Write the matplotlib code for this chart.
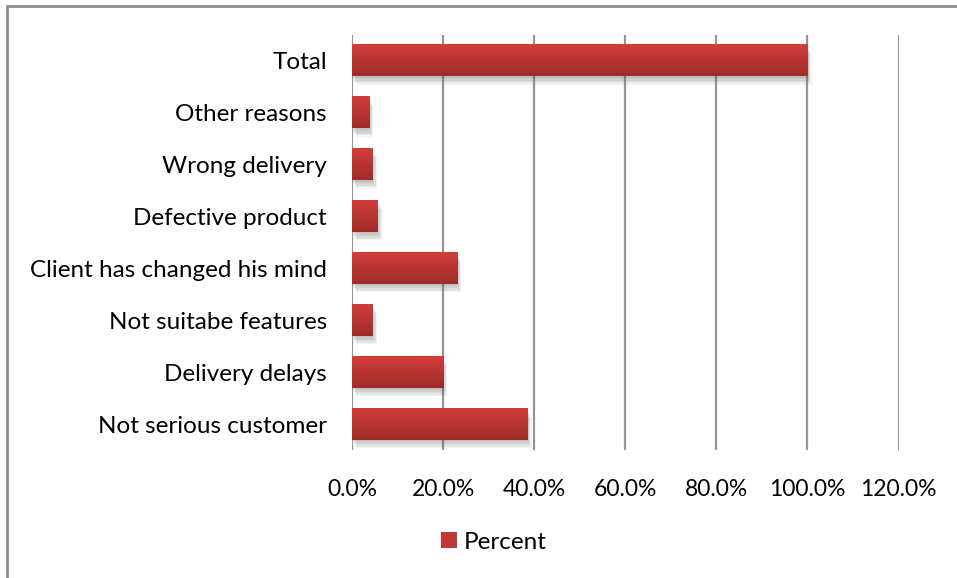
import numpy as np
import matplotlib.pyplot as plt
from matplotlib.patches import Patch, Rectangle
from matplotlib.colors import LinearSegmentedColormap
import matplotlib.patheffects as pe

plt.rcParams['font.family'] = ['Lato', 'DejaVu Sans']

reasons = ["Not serious customer", "Delivery delays", "Not suitabe features",
           "Client has changed his mind", "Defective product", "Wrong delivery",
           "Other reasons", "Total"]
percent = [38.5, 20.0, 4.6, 23.1, 5.7, 4.6, 3.8, 100.0]
xticks = [0, 20, 40, 60, 80, 100, 120]

top_col, bot_col = "#d13e3b", "#a02b29"
grad = LinearSegmentedColormap.from_list("bar", [bot_col, top_col])

fig = plt.figure(figsize=(9.57, 5.78), dpi=100)
ax = fig.add_axes([0.3678, 0.2215, 0.5711, 0.7180])

y = np.arange(len(reasons))
h = 0.6
# soft drop shadow built from a few faint offset copies
shadow = [pe.SimplePatchShadow(offset=(dx, dy), shadow_rgbFace="#555555", alpha=0.07)
          for dx, dy in [(0, -1), (1, -2), (1, -3), (2, -4), (2, -5), (3, -6)]]
bars = ax.barh(y, percent, height=h, color=bot_col, zorder=3,
               path_effects=shadow + [pe.Normal()])

# vertical gradient on each bar
g = np.linspace(0, 1, 64).reshape(-1, 1)
for yi, v in zip(y, percent):
    ax.imshow(g, cmap=grad, aspect="auto", origin="lower",
              extent=(0, v, yi - h / 2, yi + h / 2), zorder=4)

ax.set_xlim(0, 120)
ax.set_ylim(-0.5, len(reasons) - 0.5)
ax.set_xticks(xticks)
ax.set_xticklabels([f"{t:.1f}%" for t in xticks])
ax.set_yticks(y)
ax.set_yticklabels(reasons)
ax.xaxis.grid(True, color="#969696", linewidth=1.6, zorder=1)
ax.set_axisbelow(True)
for s in ax.spines.values():
    s.set_visible(False)
ax.tick_params(axis="y", length=0, pad=18, labelsize=17.5)
ax.tick_params(axis="x", length=0, pad=21, labelsize=16.5)

# outer chart frame (only left and top edges fall inside the image)
fig.patches.append(Rectangle((7 / 957, -0.1), 1.2, 1.1 - 6 / 578, transform=fig.transFigure,
                             fill=False, edgecolor="#8e8e8e", linewidth=2))

fig.legend(handles=[Patch(facecolor="#c0393a", edgecolor="none", label="Percent")],
           loc="center", bbox_to_anchor=(0.516, 0.062), frameon=False, fontsize=17.5,
           handlelength=0.65, handleheight=0.65, handletextpad=0.3)

fig.savefig("out.png", dpi=100)
